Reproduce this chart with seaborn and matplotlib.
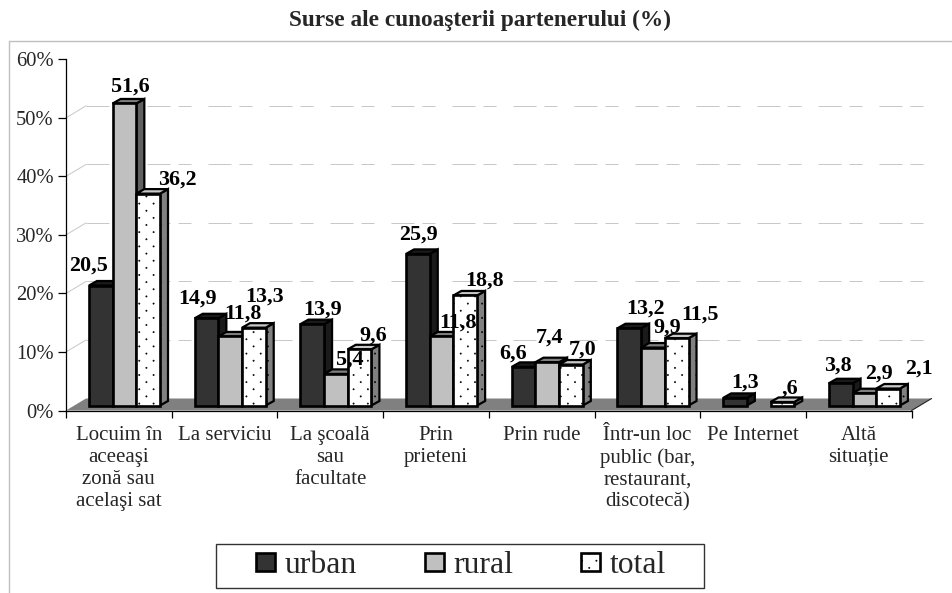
import numpy as np
import pandas as pd
import matplotlib
matplotlib.use("Agg")
import matplotlib.pyplot as plt
from matplotlib import hatch as mhatch
from matplotlib.lines import Line2D
from matplotlib.patches import Patch, Polygon, Rectangle
from matplotlib.path import Path
import seaborn as sns

categories = ["Locuim în\naceeaşi\nzonă sau\nacelaşi sat", "La serviciu", "La şcoală\nsau\nfacultate",
              "Prin\nprieteni", "Prin rude", "Într-un loc\npublic (bar,\nrestaurant,\ndiscotecă)",
              "Pe Internet", "Altă\nsituație"]
series = ["urban", "rural", "total"]
urban = [20.5, 14.9, 13.9, 25.9, 6.6, 13.2, 1.3, 3.8]
rural = [51.6, 11.8, 5.4, 11.8, 7.4, 9.9, np.nan, 2.1]
total = [36.2, 13.3, 9.6, 18.8, 7.0, 11.5, 0.6, 2.9]
urban_labels = ["20,5", "14,9", "13,9", "25,9", "6,6", "13,2", "1,3", "3,8"]
rural_labels = ["51,6", "11,8", "5,4", "11,8", "7,4", "9,9", "", "2,9"]
total_labels = ["36,2", "13,3", "9,6", "18,8", "7,0", "11,5", ",6", "2,1"]
ytick_labels = ["0%", "10%", "20%", "30%", "40%", "50%", "60%"]

# label offsets from each bar's top centre, in pixels (right, up)
urban_off = [(-12, 19.5), (-8.6, 19.3), (10.7, 15), (1, 18.9), (-10.7, 12.9), (16.6, 19.2), (9.9, 14.9), (-2.8, 17.3)]
rural_off = [(6, 16.5), (12.7, 22.4), (14, 13.9), (16.3, 13.4), (2.6, 24.2), (13.9, 19.5), (0, 0), (14.5, 19.2)]
total_off = [(29, 13.6), (11, 30.7), (13.3, 13.3), (19.6, 14.5), (11.9, 14.5), (23.2, 23.2), (7.5, 13), (30.8, 19.5)]


class SparseDots(mhatch.HatchPatternBase):
    """Small staggered dots, sparser and finer than matplotlib's '.' hatch."""
    COLS, ROWS, RADIUS = 7, 14, 0.0065

    def __init__(self, pattern, density):
        self.circle = Path.unit_circle()
        n = self.COLS * self.ROWS if "." in pattern else 0
        self.num_vertices = n * len(self.circle.vertices)

    def set_vertices_and_codes(self, vertices, codes):
        if self.num_vertices == 0:
            return
        size = len(self.circle.vertices)
        cursor = 0
        for k in range(self.ROWS):
            for m in range(self.COLS):
                cx = (m + 0.25 + 0.5 * (k % 2)) / self.COLS
                cy = (k + 0.5) / self.ROWS
                vertices[cursor:cursor + size] = self.circle.vertices * self.RADIUS + (cx, cy)
                codes[cursor:cursor + size] = self.circle.codes
                cursor += size


mhatch._hatch_types[mhatch._hatch_types.index(mhatch.SmallFilledCircles)] = SparseDots

FONT = "Liberation Serif"
W, H = 953, 593

sns.set_style("white")
plt.rcParams["font.family"] = FONT
plt.rcParams["hatch.linewidth"] = 0.4

front = {"urban": "#333333", "rural": "#C0C0C0", "total": "#FFFFFF"}
side = {"urban": "#1A1A1A", "rural": "#606060", "total": "#808080"}
top = {"urban": "#1A1A1A", "rural": "#808080", "total": "#C8C8C8"}
labels = {"urban": urban_labels, "rural": rural_labels, "total": total_labels}
offsets = {"urban": urban_off, "rural": rural_off, "total": total_off}

df = pd.DataFrame({
    "cat": np.tile(categories, 3),
    "series": np.repeat(series, len(categories)),
    "value": urban + rural + total,
})

fig = plt.figure(figsize=(W / 100, H / 100), dpi=100)
X0, X1, Y0, Y1 = 66.0, 911.6, 410.5, 59.3
ax = fig.add_axes([X0 / W, 1 - Y0 / H, (X1 - X0) / W, (Y0 - Y1) / H])
ax.patch.set_alpha(0)

sns.barplot(data=df, x="cat", y="value", hue="series", order=categories, hue_order=series,
            palette=front, saturation=1, width=0.672, gap=0, edgecolor="black", linewidth=1.9,
            legend=False, ax=ax, err_kws={"linewidth": 0}, zorder=5)
ax.set_xlim(-0.5, 7.5)
ax.set_ylim(0, 60)

px_x = 8 / (X1 - X0)     # data units per pixel
px_y = 60 / (Y0 - Y1)

# wall grid and floor
WALL_DX, WALL_DY = 20 * px_x, 12 * px_y
floor = Polygon([(-0.5, 0), (-0.5 + WALL_DX, WALL_DY), (7.5 + WALL_DX, WALL_DY), (7.5, 0)],
                closed=True, facecolor="#808080", edgecolor="none", zorder=1, clip_on=False)
ax.add_patch(floor)
ax.plot([7.5, 7.5 + WALL_DX], [0, WALL_DY], color="#222222", lw=0.8, zorder=1.5, clip_on=False)
for v in range(10, 60, 10):
    ax.plot([-0.5 + WALL_DX, 7.5 + WALL_DX], [v + WALL_DY] * 2, color="#C8C8C8", lw=0.72,
            dashes=(23, 8, 13, 17), zorder=0.5, clip_on=False)
    ax.plot([-0.5, -0.5 + WALL_DX], [v, v + WALL_DY], color="#C8C8C8", lw=0.72, zorder=0.5, clip_on=False)

# bar depth
SHIFT_X, SHIFT_Y = 5.65 * px_x, 5 * px_y
DX, DY = 8 * px_x, 4.5 * px_y
for j, (name, cont) in enumerate(zip(series, ax.containers)):
    for bar in cont:
        h = bar.get_height()
        if not np.isfinite(h):
            continue
        cx = bar.get_x() + bar.get_width() / 2
        i = int(round(cx))
        bar.set_x(bar.get_x() + SHIFT_X)
        bar.set_y(SHIFT_Y)
        x0, x1 = bar.get_x(), bar.get_x() + bar.get_width()
        y0, y1 = SHIFT_Y, SHIFT_Y + h
        z = 2 + i + j * 0.3
        bar.set_zorder(z + 0.2)
        bar.set_clip_on(False)
        s = Polygon([(x1, y0), (x1 + DX, y0 + DY), (x1 + DX, y1 + DY), (x1, y1)], closed=True,
                    facecolor=side[name], edgecolor="black", linewidth=1.6, zorder=z, clip_on=False)
        t = Polygon([(x0, y1), (x0 + DX, y1 + DY), (x1 + DX, y1 + DY), (x1, y1)], closed=True,
                    facecolor=top[name], edgecolor="black", linewidth=1.6, zorder=z + 0.1, clip_on=False)
        ax.add_patch(s)
        ax.add_patch(t)
        if name == "total":
            bar.set_hatch(".")
            s.set_hatch(".")
        dx, dy = offsets[name][i]
        ax.annotate(labels[name][i], xy=(x0 + bar.get_width() / 2, y1), xytext=(dx * 0.72, dy * 0.72),
                    textcoords="offset points", ha="center", va="center", fontsize=15.8, fontweight="bold",
                    color="black", zorder=30, annotation_clip=False)

# axes furniture
sns.despine(ax=ax)
for sp in ("left", "bottom"):
    ax.spines[sp].set_linewidth(0.9)
    ax.spines[sp].set_color("black")
    ax.spines[sp].set_zorder(1.6)
ax.set_xlabel("")
ax.set_ylabel("")
ax.set_yticks(range(0, 70, 10))
ax.set_yticklabels(ytick_labels, fontsize=14.8)
ax.tick_params(axis="y", length=5.8, width=0.9, pad=3, color="black", left=True)
ax.set_xticks(np.arange(-0.5, 8, 1))
ax.set_xticklabels([""] * 9)
ax.tick_params(axis="x", which="major", length=5, width=0.9, color="black", bottom=True)
ax.set_xticks(range(8), minor=True)
ax.set_xticklabels(categories, minor=True, fontsize=15, linespacing=1.21, va="top")
ax.tick_params(axis="x", which="minor", length=0, pad=11)

fig.text(480 / W, 1 - 20 / H, "Surse ale cunoaşterii partenerului (%)", ha="center", va="center",
         fontsize=16.8, fontweight="bold")

# chart-area border
fig.add_artist(Line2D([9.5 / W, 9.5 / W], [0, 1 - 41 / H], color="#C0C0C0", lw=1, transform=fig.transFigure))
fig.add_artist(Line2D([9.5 / W, 1], [1 - 41 / H] * 2, color="#C0C0C0", lw=1, transform=fig.transFigure))

# legend
fig.add_artist(Rectangle((216 / W, 1 - 587.5 / H), 488.5 / W, 43.5 / H, transform=fig.transFigure,
                         facecolor="white", edgecolor="#333333", lw=1))
handles = [Patch(facecolor=front[s_], edgecolor="black", linewidth=1.9, hatch="." if s_ == "total" else None,
                 label=s_) for s_ in series]
fig.legend(handles=handles, ncol=3, frameon=False, loc="center", bbox_to_anchor=(461 / W, 1 - 565.5 / H),
           bbox_transform=fig.transFigure, handlelength=0.6, handleheight=0.48,
           handletextpad=0.3, columnspacing=2.15, borderpad=0, prop={"family": FONT, "size": 22.8})

fig.savefig("out.png", dpi=100)
